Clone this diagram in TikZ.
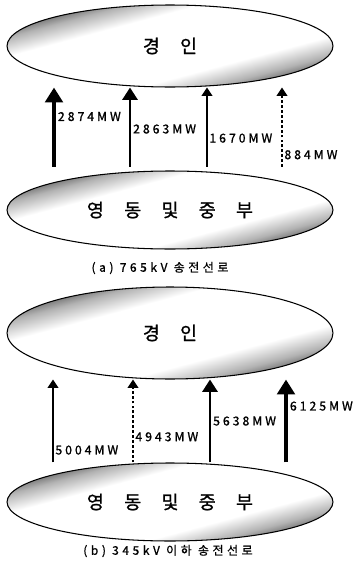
\documentclass[tikz,border=0pt]{standalone}
\usepackage{fontspec}
\usetikzlibrary{arrows.meta,shapes.geometric}
\newfontfamily\krfont{Noto Sans CJK KR}
\newcommand\gap{\hspace{1.1em}}
\pgfdeclareverticalshading{rim}{100bp}{color(0bp)=(black!80); color(25bp)=(black!72); color(31bp)=(black!30); color(38bp)=(white); color(62bp)=(white); color(69bp)=(black!30); color(75bp)=(black!72); color(100bp)=(black!80)}

\begin{document}
\begin{tikzpicture}[x=0.02cm,y=-0.02cm,
  region/.style={ellipse,draw,line width=0.6pt,shading=rim,shading angle=15,
    minimum width=6.52cm,inner sep=0pt,
    font=\krfont\fontsize{10.5}{12}\selectfont\addfontfeature{FakeBold=1}},
  heavy/.style={line width=2.5pt,-{Triangle[length=8.5pt,width=10pt]}},
  medium/.style={line width=1.6pt,-{Triangle[length=7pt,width=8.5pt]}},
  light/.style={line width=0.75pt,-{Triangle[length=4.8pt,width=6.2pt]}},
  faint/.style={light,dash pattern=on 1.6pt off 1.2pt},
  mw/.style={anchor=west,inner sep=1pt,
    font=\krfont\fontsize{7}{8}\selectfont\addfontfeature{LetterSpace=24,FakeBold=1}},
  caption/.style={font=\krfont\fontsize{6.8}{8}\selectfont\addfontfeature{LetterSpace=30,FakeBold=1}}]
  \useasboundingbox (0,0) rectangle (353,565);

  % (a) 765kV
  \node[region,minimum height=1.64cm] (ga) at (170,46) {경\gap 인};
  \node[region,minimum height=1.56cm] (ya) at (170,210) {영\gap 동\gap 및\gap 중\gap 부};
  \draw[heavy,shorten <=2pt] (54,0 |- ya.north) -- (54,0 |- ga.south) node[mw,pos=0.65] {2874MW};
  \draw[medium,shorten <=2pt] (130,0 |- ya.north) -- (130,0 |- ga.south) node[mw,pos=0.5] {2863MW};
  \draw[light,shorten <=2pt] (207,0 |- ya.north) -- (207,0 |- ga.south) node[mw,pos=0.39] {1670MW};
  \draw[faint,shorten <=2pt] (282,0 |- ya.north) -- (282,0 |- ga.south) node[mw,pos=0.19] {884MW};
  \node[caption] (capa) at (160,268) {(a) 765kV 송전선로};

  % (b) 345kV 이하
  \node[region,minimum height=1.84cm] (gb) at (170,333) {경\gap 인};
  \node[region,minimum height=1.56cm] (yb) at (170,502) {영\gap 동\gap 및\gap 중\gap 부};
  \draw[light] (53,0 |- yb.north) -- (53,0 |- gb.south) node[mw,pos=0.15] {5004MW};
  \draw[faint] (133,0 |- yb.north) -- (133,0 |- gb.south) node[mw,pos=0.31] {4943MW};
  \draw[medium] (210,0 |- yb.north) -- (210,0 |- gb.south) node[mw,pos=0.5] {5638MW};
  \draw[heavy] (286,0 |- yb.north) -- (286,0 |- gb.south) node[mw,pos=0.68] {6125MW};
  \node[caption] (capb) at (168,551) {(b) 345kV 이하 송전선로};
\end{tikzpicture}
\end{document}
